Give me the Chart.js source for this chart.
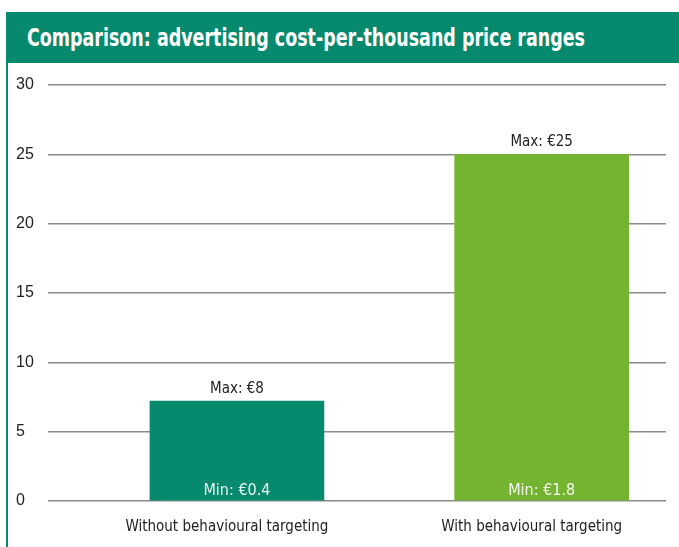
<!DOCTYPE html>
<html>
<head>
<meta charset="utf-8">
<script src="https://cdn.jsdelivr.net/npm/chart.js@4"></script>
<style>
  html, body { margin: 0; padding: 0; background: #fff; }
  body { width: 679px; height: 547px; position: relative; overflow: hidden; }
  #header {
    position: absolute; left: 6px; top: 12px; width: 673px; height: 51px;
    background: #07896d;
  }
  #header span {
    position: absolute; left: 21px; top: 0; line-height: 51px;
    color: #fff; white-space: nowrap;
    font-family: "Liberation Sans Narrow", "DejaVu Sans Condensed", sans-serif;
    font-weight: bold; font-size: 25px;
    transform: scaleX(0.777); transform-origin: left center;
  }
  #frame {
    position: absolute; left: 6px; top: 63px; width: 2px; height: 484px; background: #07896d;
  }
  #wrap { position: absolute; left: 0; top: 62px; width: 679px; height: 485px; }
</style>
</head>
<body>
<div id="header"><span>Comparison: advertising cost-per-thousand price ranges</span></div>
<div id="frame"></div>
<div id="wrap"><canvas id="priceChart"></canvas></div>
<script>
const categories = ["Without behavioural targeting", "With behavioural targeting"];
const barValues = [7.2, 25];
const maxLabels = ["Max: €8", "Max: €25"];
const minLabels = ["Min: €0.4", "Min: €1.8"];
const barColors = ["#07896d", "#74b431"];
const yTicks = [0, 5, 10, 15, 20, 25, 30];

const narrow = '"Liberation Sans Narrow", "DejaVu Sans Condensed", sans-serif';

// min / max text on the bars
const rangeLabels = {
    id: "rangeLabels",
    afterDatasetsDraw(chart) {
        const ctx = chart.ctx;
        const meta = chart.getDatasetMeta(0);
        ctx.save();
        ctx.textAlign = "center";
        meta.data.forEach((bar, i) => {
            ctx.font = "15px " + narrow;
            ctx.fillStyle = "#222";
            ctx.textBaseline = "bottom";
            ctx.fillText(maxLabels[i], bar.x, bar.y - 5);
            ctx.font = "16px " + narrow;
            ctx.fillStyle = "rgba(255,255,255,0.92)";
            ctx.textBaseline = "alphabetic";
            ctx.fillText(minLabels[i], bar.x, bar.base - 5);
        });
        ctx.restore();
    }
};

document.addEventListener("DOMContentLoaded", () => {
    const ctx = document.getElementById("priceChart").getContext("2d");
    new Chart(ctx, {
        type: "bar",
        data: {
            datasets: [{
                data: barValues.map((v, i) => ({ x: i, y: v })),
                backgroundColor: barColors,
                borderWidth: 0,
                barThickness: 174
            }]
        },
        options: {
            responsive: true,
            maintainAspectRatio: false,
            animation: false,
            layout: { padding: { left: 16, right: 13, top: 23, bottom: 0 } },
            plugins: {
                legend: { display: false },
                tooltip: { enabled: false }
            },
            scales: {
                x: {
                    type: "linear",
                    offset: false,
                    min: -0.62,
                    max: 1.408,
                    grid: { display: false, offset: false },
                    border: { display: false },
                    afterBuildTicks: scale => { scale.ticks = categories.map((c, i) => ({ value: i })); },
                    afterFit: scale => { scale.height = 46; },
                    ticks: {
                        autoSkip: false,
                        maxRotation: 0,
                        padding: 9,
                        labelOffset: -10,
                        color: "#222",
                        font: { family: narrow, size: 15 },
                        callback: value => categories[value]
                    }
                },
                y: {
                    min: 0,
                    max: 30,
                    afterBuildTicks: scale => { scale.ticks = yTicks.map(v => ({ value: v })); },
                    afterFit: scale => { scale.width = 32; },
                    grid: { color: "#8a8a8a", lineWidth: 1.5, drawTicks: false },
                    border: { display: false },
                    ticks: {
                        crossAlign: "far",
                        padding: 0,
                        color: "#222",
                        font: { family: "Liberation Sans, Arial, sans-serif", size: 16 }
                    }
                }
            }
        },
        plugins: [rangeLabels]
    });
});
</script>
</body>
</html>
